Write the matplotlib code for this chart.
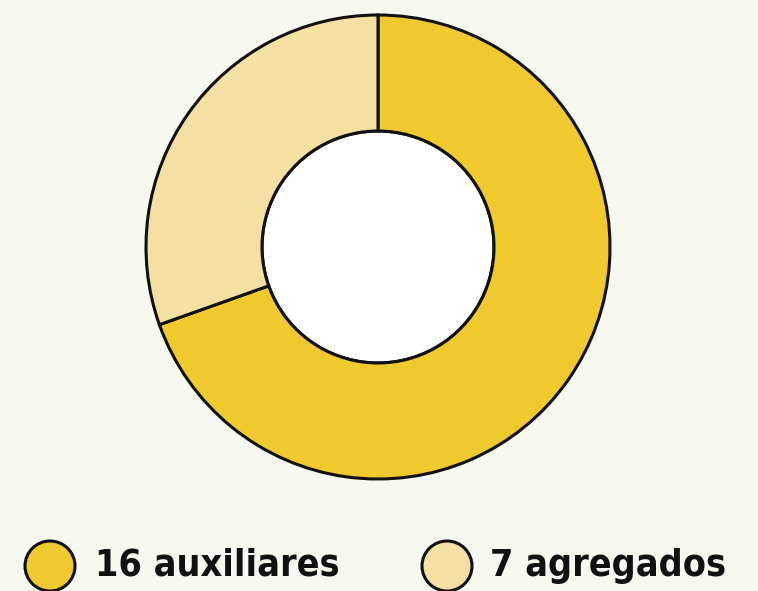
import matplotlib.pyplot as plt
from matplotlib.patches import Ellipse

# datos
etiquetas = ['auxiliares', 'agregados']
valores = [16, 7]
colores = ['#f0c92f', '#f5e0a4']
fondo = '#f7f9f1'

fig = plt.figure(figsize=(7.58, 5.91), dpi=100)
fig.patch.set_facecolor(fondo)
ax = fig.add_axes([0, 0, 1, 1])
ax.set_xlim(0, 758)
ax.set_ylim(0, 591)
ax.set_aspect('equal')
ax.axis('off')

# anillo
ax.pie(valores, colors=colores, center=(378, 344), radius=232,
       startangle=90, counterclock=False,
       wedgeprops=dict(width=116, edgecolor='#111111', linewidth=2.2))
ax.add_patch(plt.Circle((378, 344), 116, facecolor='white', edgecolor='#111111',
                        linewidth=2.2, zorder=0))
ax.set_xlim(0, 758)
ax.set_ylim(0, 591)

# leyenda
pos_circ = [50, 447]
pos_txt = [95, 490]
for xc, xt, v, e, c in zip(pos_circ, pos_txt, valores, etiquetas, colores):
    ax.add_patch(Ellipse((xc, 25), 50, 50, facecolor=c, edgecolor='#111111',
                         linewidth=2.2, clip_on=False))
    ax.text(xt, 25, f'{v} {e}', fontsize=27, fontweight='bold',
            fontstretch='condensed', family='DejaVu Sans', color='#111111',
            va='center', ha='left')

fig.savefig('out.png', dpi=100, facecolor=fondo)
